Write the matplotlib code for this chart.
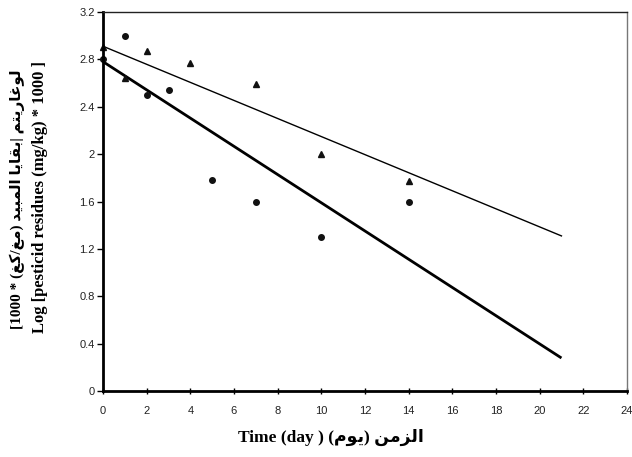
import matplotlib
matplotlib.use("Agg")
import matplotlib.pyplot as plt

# ---- data ----
circle_days = [0, 1, 2, 3, 5, 7, 10, 14]
circle_vals = [2.80, 3.00, 2.50, 2.54, 1.78, 1.60, 1.30, 1.60]
tri_days = [0, 1, 2, 4, 7, 10, 14]
tri_vals = [2.90, 2.64, 2.87, 2.77, 2.59, 2.00, 1.77]
fit_days = [0, 21]
fit_circle = [2.78, 0.28]
fit_tri = [2.91, 1.31]
xticks = list(range(0, 25, 2))
yticks = [0, 0.4, 0.8, 1.2, 1.6, 2.0, 2.4, 2.8, 3.2]
ytick_labels = ["0", "0.4", "0.8", "1.2", "1.6", "2", "2.4", "2.8", "3.2"]

# Arabic words in visual (shaped, left-to-right) order
ar_log = "\uFEE2\uFE98\uFEF3\uFEAD\uFE8E\uFECF\uFEEE\uFEDF"      # لوغاريتم
ar_baqaya = "\uFE8E\uFEF3\uFE8E\uFED8\uFE91"                   # بقايا
ar_mubeed = "\uFEAA\uFEF4\uFE92\uFEE4\uFEDF\uFE8D"             # المبيد
ar_mg = "\uFECE\uFEE3"                                         # مغ
ar_kg = "\uFECE\uFEDB"                                         # كغ
ar_zaman = "\uFEE6\uFEE3\uFEB0\uFEDF\uFE8D"                    # الزمن
ar_yawm = "\uFEE1\uFEEE\uFEF3"                                 # يوم

fams = ["Liberation Serif", "DejaVu Sans"]

fig = plt.figure(figsize=(6.32, 4.57), dpi=100)
ax = fig.add_axes([0.163, 0.144, 0.829, 0.830])

ax.plot(fit_days, fit_circle, color="black", lw=2.0, solid_capstyle="butt")
ax.plot(fit_days, fit_tri, color="black", lw=1.0)
ax.plot(circle_days, circle_vals, "o", color="#111111", ms=4, clip_on=False)
ax.plot(tri_days, tri_vals, "^", color="#111111", ms=4.5, clip_on=False)

ax.set_xlim(0, 24)
ax.set_ylim(0, 3.2)
ax.set_xticks(xticks)
ax.set_xticklabels([str(t) for t in xticks], fontsize=8, family="Liberation Sans", color="#222222")
ax.set_yticks(yticks)
ax.set_yticklabels(ytick_labels, fontsize=8, family="Liberation Sans", color="#222222")
ax.tick_params(axis="x", direction="inout", length=5, width=1, pad=8)
ax.tick_params(axis="y", direction="out", length=4, width=1, pad=2)

for s in ["left", "bottom"]:
    ax.spines[s].set_linewidth(2.0)
    ax.spines[s].set_color("black")
ax.spines["top"].set_linewidth(1.0)
ax.spines["top"].set_color("#222222")
ax.spines["right"].set_linewidth(1.0)
ax.spines["right"].set_color("#777777")

xlabel = "Time (day ) (" + ar_yawm + ") " + ar_zaman
fig.text(0.524, 0.042, xlabel, ha="center", va="center",
         fontsize=12.5, fontweight="bold", family=fams)

ylab1 = "[1000 * (" + ar_kg + "/" + ar_mg + ") " + ar_mubeed + " " + ar_baqaya + "| " + ar_log
ylab2 = "Log [pesticid residues (mg/kg) * 1000 ]"
fig.text(0.027, 0.565, ylab1, rotation=90, ha="center", va="center",
         fontsize=11, fontweight="bold", family=fams)
fig.text(0.064, 0.568, ylab2, rotation=90, ha="center", va="center",
         fontsize=12, fontweight="bold", family=fams)

fig.savefig("out.png", dpi=100)
